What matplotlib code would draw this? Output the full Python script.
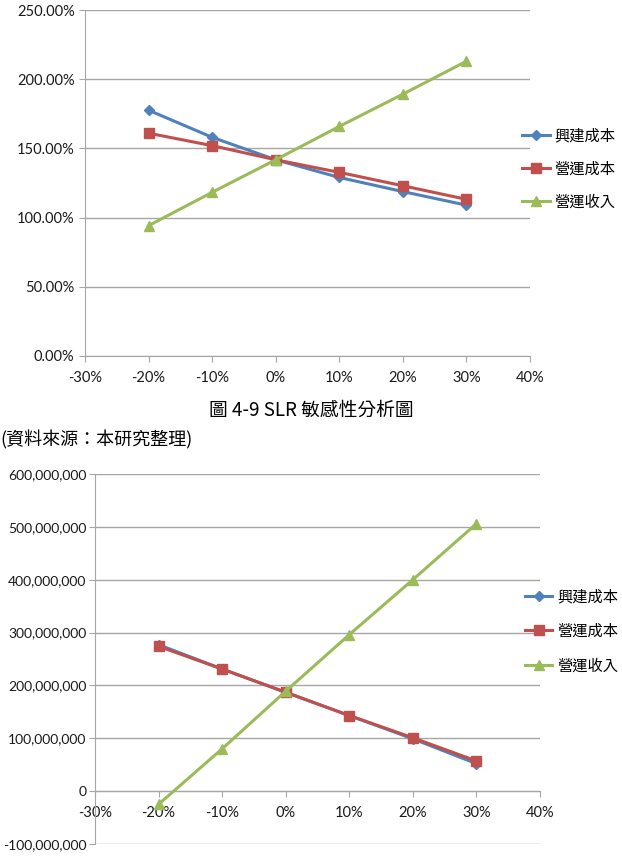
import matplotlib.pyplot as plt
from matplotlib.ticker import FuncFormatter

plt.rcParams['font.family'] = ['Lato', 'Noto Sans CJK TC', 'DejaVu Sans']

# 變動幅度
change = [-0.20, -0.10, 0.0, 0.10, 0.20, 0.30]
labels = ["興建成本", "營運成本", "營運收入"]

# 上圖: 比率 (%)
top_build = [177.6, 158.0, 141.8, 129.0, 118.8, 109.0]
top_opcost = [161.0, 152.0, 141.8, 132.7, 123.0, 113.2]
top_revenue = [94.2, 118.3, 141.8, 165.9, 189.2, 213.0]

# 下圖: 金額
bot_build = [277e6, 231e6, 187e6, 143e6, 99e6, 52e6]
bot_opcost = [274e6, 231e6, 187e6, 143e6, 101e6, 57e6]
bot_revenue = [-25e6, 80e6, 189e6, 296e6, 400e6, 506e6]

x_ticks = [-0.3, -0.2, -0.1, 0.0, 0.1, 0.2, 0.3, 0.4]
caption = "圖 4-9 SLR 敏感性分析圖"
source = "(資料來源：本研究整理)"

colors = ["#4F81BD", "#C0504D", "#9BBB59"]
markers = ["D", "s", "^"]
msizes = [5, 7, 7]
grid_c = "#A6A6A6"

fig = plt.figure(figsize=(6.22, 8.57), dpi=100)


def style_axes(ax):
    ax.spines['top'].set_visible(False)
    ax.spines['right'].set_visible(False)
    ax.spines['left'].set_color(grid_c)
    ax.spines['bottom'].set_color(grid_c)
    ax.grid(axis='y', color=grid_c, linewidth=1)
    ax.set_axisbelow(True)
    ax.tick_params(colors=grid_c, labelcolor='#1a1a1a', labelsize=10.5, length=4)
    ax.tick_params(axis='x', pad=7)
    ax.set_xlim(-0.3, 0.4)
    ax.set_xticks(x_ticks)
    ax.xaxis.set_major_formatter(FuncFormatter(lambda v, p: f"{round(v * 100):d}%"))


def draw_series(ax, series):
    for vals, lab, c, m, ms in zip(series, labels, colors, markers, msizes):
        ax.plot(change, vals, color=c, marker=m, markersize=ms, linewidth=2.2, label=lab)


# 上圖
ax1 = fig.add_axes([0.1367, 0.5846, 0.7154, 0.4037])
draw_series(ax1, [top_build, top_opcost, top_revenue])
style_axes(ax1)
ax1.set_ylim(0, 250)
ax1.set_yticks([0, 50, 100, 150, 200, 250])
ax1.yaxis.set_major_formatter(FuncFormatter(lambda v, p: f"{v:.2f}%"))
ax1.legend(loc='center left', bbox_to_anchor=(0.952, 0.54), frameon=False,
           fontsize=11, labelspacing=1.2, handlelength=1.8, handletextpad=0.3)

# 下圖
ax2 = fig.add_axes([0.1527, 0.0152, 0.7154, 0.4317])
draw_series(ax2, [bot_build, bot_opcost, bot_revenue])
style_axes(ax2)
ax2.set_ylim(-100e6, 600e6)
ax2.set_yticks([-100e6, 0, 100e6, 200e6, 300e6, 400e6, 500e6, 600e6])
ax2.yaxis.set_major_formatter(FuncFormatter(lambda v, p: f"{v:,.0f}"))
ax2.tick_params(axis='y', labelsize=10, pad=2)
ax2.spines['bottom'].set_position(('data', 0))
ax2.legend(loc='center left', bbox_to_anchor=(0.935, 0.574), frameon=False,
           fontsize=11, labelspacing=1.3, handlelength=1.8, handletextpad=0.3)

fig.text(0.5, 1 - 410 / 857, caption, ha='center', va='center', fontsize=13.5,
         family=['Noto Sans CJK TC', 'DejaVu Sans'])
fig.text(0.0, 1 - 440 / 857, source, ha='left', va='center', fontsize=13,
         family=['Noto Sans CJK TC', 'DejaVu Sans'])

fig.savefig("out.png", dpi=100)
